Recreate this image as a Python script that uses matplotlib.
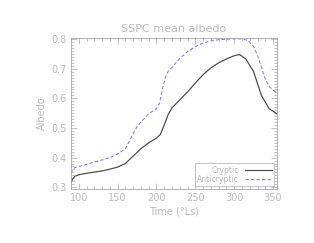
import matplotlib
matplotlib.use("Agg")
import matplotlib.pyplot as plt
from matplotlib.ticker import MultipleLocator

title = "SSPC mean albedo"
xlabel = "Time (°Ls)"
ylabel = "Albedo"
series_names = ["Cryptic", "Anticryptic"]

cryptic_ls = [90, 92, 95, 100, 110, 120, 130, 140, 150, 160, 170, 180, 190, 200,
              205, 210, 215, 220, 230, 240, 250, 260, 270, 280, 290, 300, 307,
              315, 325, 335, 345, 355]
cryptic = [0.315, 0.327, 0.337, 0.342, 0.347, 0.351, 0.355, 0.361, 0.368, 0.380,
           0.405, 0.430, 0.450, 0.466, 0.478, 0.510, 0.545, 0.568, 0.595, 0.622,
           0.652, 0.680, 0.703, 0.720, 0.733, 0.744, 0.748, 0.733, 0.690, 0.610,
           0.565, 0.548]

anti_ls = [90, 92, 95, 100, 110, 120, 130, 140, 150, 160, 165, 170, 175, 180, 190,
           200, 204, 208, 212, 216, 220, 230, 240, 250, 260, 270, 280, 290, 300,
           310, 318, 325, 330, 335, 340, 345, 350, 355]
anticryptic = [0.347, 0.358, 0.366, 0.370, 0.377, 0.385, 0.392, 0.400, 0.412, 0.430,
               0.455, 0.480, 0.505, 0.520, 0.548, 0.565, 0.585, 0.635, 0.675, 0.695,
               0.705, 0.735, 0.758, 0.775, 0.787, 0.794, 0.798, 0.800, 0.801, 0.801,
               0.795, 0.775, 0.745, 0.705, 0.665, 0.640, 0.628, 0.617]

txt = "#bcbcbc"
ax_col = "#a8a8a8"

fig = plt.figure(figsize=(3.14, 2.43), dpi=100)
ax = fig.add_axes([0.226, 0.221, 0.656, 0.624])
ax.plot(cryptic_ls, cryptic, color="#505050", lw=0.9, label=series_names[0])
ax.plot(anti_ls, anticryptic, color="#8080ff", lw=0.8, ls=(0, (3, 2)), label=series_names[1])

ax.set_xlim(90, 355)
ax.set_ylim(0.293, 0.805)
ax.xaxis.set_major_locator(MultipleLocator(50))
ax.xaxis.set_minor_locator(MultipleLocator(10))
ax.yaxis.set_major_locator(MultipleLocator(0.1))
ax.yaxis.set_minor_locator(MultipleLocator(0.01))
ax.yaxis.set_major_formatter(matplotlib.ticker.FormatStrFormatter("%.1f"))
ax.tick_params(which="both", direction="in", top=True, right=True, colors=ax_col,
               labelcolor=txt, labelsize=7, width=0.5)
ax.tick_params(which="major", length=4, pad=3)
ax.tick_params(which="minor", length=2)
for s in ax.spines.values():
    s.set_color(ax_col)
    s.set_linewidth(0.6)

ax.set_title(title, color=txt, fontsize=8, pad=4)
ax.set_xlabel(xlabel, color=txt, fontsize=7, labelpad=2)
ax.set_ylabel(ylabel, color=txt, fontsize=7, labelpad=3)

leg = ax.legend(loc="lower right", fontsize=5.5, markerfirst=False, fancybox=False,
                frameon=True, edgecolor=ax_col, handlelength=3.5, borderpad=0.3,
                labelspacing=0.05, handletextpad=0.8, borderaxespad=0.4)
leg.get_frame().set_linewidth(0.6)
for t in leg.get_texts():
    t.set_color(txt)

fig.savefig("out.png", dpi=100)
